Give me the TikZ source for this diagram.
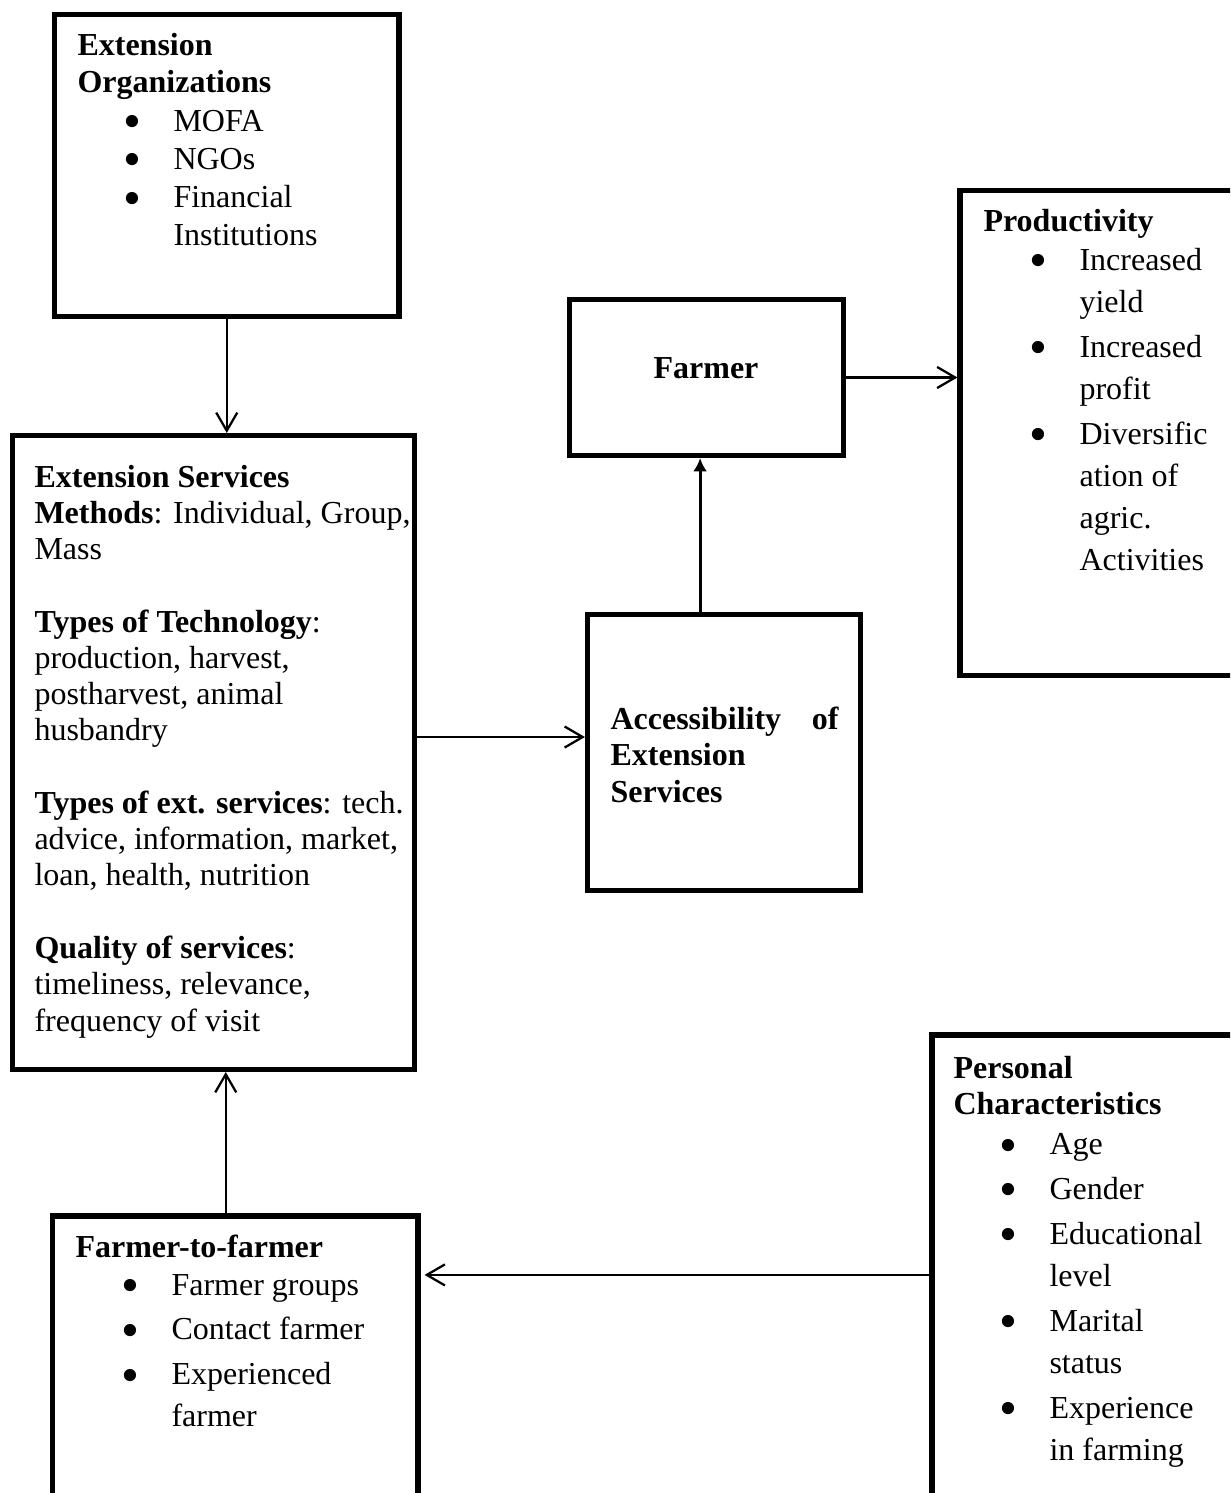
\documentclass[tikz,border=0pt]{standalone}
\usepackage{fontspec}
\setmainfont{Liberation Serif}
\usetikzlibrary{arrows.meta}
\newcommand{\blockbox}{\node[draw=black, line width=1.9pt, inner sep=0pt]}
\newcommand{\boxtext}{\node[anchor=base west, inner sep=0pt]}
\newcommand{\lines}[2]{\parbox[t]{#1}{\raggedright #2}}
\newcommand{\bul}{\hspace*{17.3pt}\makebox[18.7pt][l]{\raisebox{-2.7pt}[0pt][0pt]{\scalebox{1.6}{\textbullet}}}}
\newcommand{\cont}{\hspace*{36pt}}
\tikzset{flow/.style={line width=0.85pt, -{Straight Barb[length=6.8pt, width=7.9pt]}},
	solidflow/.style={line width=1.1pt, -{Latex[length=5pt, width=5.2pt]}}}
\begin{document}
\begin{tikzpicture}[x=0.375pt, y=-0.375pt]
					\clip (0,0) rectangle (1230,1493);
					\blockbox[minimum width=344.5*0.375, minimum height=302*0.375] (org) at (226.75,165.5) {};
					\blockbox[minimum width=402*0.375, minimum height=634*0.375] (serv) at (213.5,752.5) {};
					\blockbox[minimum width=274*0.375, minimum height=156*0.375] (farmer) at (706.5,377.5) {};
					\blockbox[minimum width=273*0.375, minimum height=276*0.375] (acc) at (724,752.5) {};
					\blockbox[minimum width=290*0.375, minimum height=485*0.375] (prod) at (1105,433) {};
					\blockbox[minimum width=365.3*0.375, minimum height=294*0.375] (ftf) at (235.35,1363) {};
					\blockbox[minimum width=318*0.375, minimum height=475*0.375] (pers) at (1091,1272.5) {};
					\boxtext[font=\fontsize{12}{13.75}\selectfont] (orgtxt) at (77,56) {\lines{115pt}{\textbf{Extension}\\ \textbf{Organizations}\\[0.65pt] \bul MOFA\\[0.65pt] \bul NGOs\\[0.65pt] \bul Financial\\[0.4pt] \cont Institutions}};
					\boxtext[font=\fontsize{12}{13.6}\selectfont] (servtxt) at (34,487) {\lines{143pt}{\textbf{Extension Services}\\ \textbf{Methods}: Individual, Group,\\ Mass\\[13.6pt] \textbf{Types of Technology}:\\ production, harvest,\\ postharvest, animal\\ husbandry\\[13.6pt] \textbf{Types of ext. services}: tech.\\ advice, information, market,\\ loan, health, nutrition\\[13.6pt] \textbf{Quality of services}:\\ timeliness, relevance,\\ frequency of visit}};
					\node[anchor=base, inner sep=0pt, font=\fontsize{12}{13.8}\selectfont\bfseries] (farmertxt) at (706,379) {Farmer};
					\boxtext[font=\fontsize{12}{13.8}\selectfont\bfseries] (acctxt) at (610,729) {\lines{86pt}{\makebox[85.5pt][s]{Accessibility\hfill of}\\ Extension\\ Services}};
					\boxtext[font=\fontsize{12}{15.75}\selectfont] (prodtxt) at (983,231.7) {\lines{90pt}{\textbf{Productivity}\\[-1.1pt] \bul Increased\\ \cont yield\\[1.1pt] \bul Increased\\ \cont profit\\[1.1pt] \bul Diversific\\ \cont ation of\\ \cont agric.\\ \cont Activities}};
					\boxtext[font=\fontsize{12}{15.75}\selectfont] (perstxt) at (953,1078) {\lines{100pt}{\textbf{Personal}\\[-1.95pt] \textbf{Characteristics}\\[-0.75pt] \bul Age\\[1.1pt] \bul Gender\\[1.1pt] \bul Educational\\ \cont level\\[1.1pt] \bul Marital\\ \cont status\\[1.1pt] \bul Experience\\ \cont in farming}};
					\boxtext[font=\fontsize{12}{15.75}\selectfont] (ftftxt) at (75,1257) {\lines{125pt}{\textbf{Farmer-to-farmer}\\[-1.5pt] \bul Farmer groups\\[1.1pt] \bul Contact farmer\\[1.1pt] \bul Experienced\\ \cont farmer}};
					\coordinate (up) at ([xshift=-2.4pt]farmer.south);
					\coordinate (ftfup) at ([xshift=-3.6pt]ftf.north);
					\draw[flow] (org.south) -- (org.south |- serv.north);
					\draw[flow] ([yshift=5.8pt]serv.east) -- ([yshift=5.8pt]acc.west);
					\draw[solidflow] (up |- acc.north) -- (up);
					\draw[flow] (farmer.east) -- (farmer.east -| prod.west);
					\draw[flow] (ftfup) -- (ftfup |- serv.south);
					\draw[flow, shorten >=1.5pt] ([yshift=-0.9pt]pers.west) -- ([yshift=-0.9pt]pers.west -| ftf.east);
				\end{tikzpicture}
\end{document}
